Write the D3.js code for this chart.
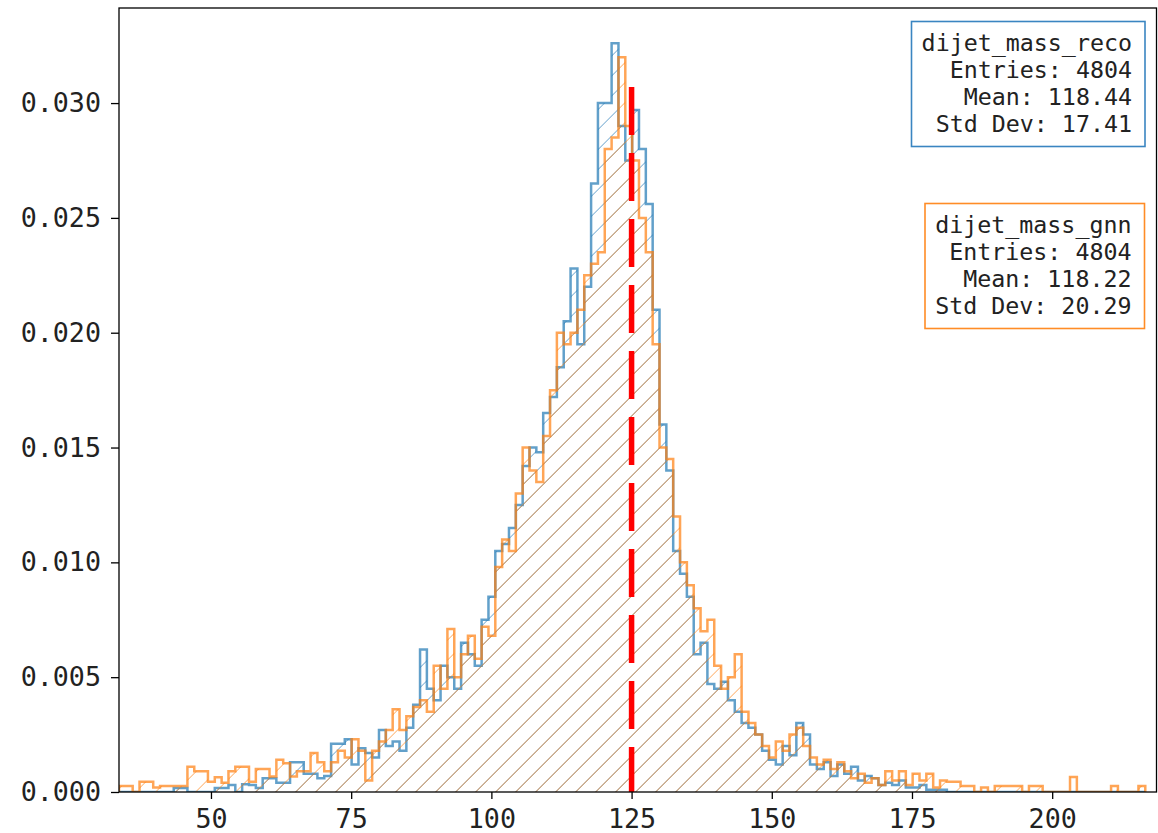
<!DOCTYPE html>
<html>
<head>
<meta charset="utf-8">
<script src="https://cdn.jsdelivr.net/npm/d3@7"></script>
<style>
  body { margin: 0; background: #fff; }
  text { font-family: "DejaVu Sans Mono", monospace; fill: #222; }
</style>
</head>
<body>
<div id="chart-area"></div>
<script>
const margin = {top:8, right:1.5, bottom:41, left:119};
const width = 1158 - margin.left - margin.right;
const height = 833 - margin.top - margin.bottom;

// histogram binning (same grid for both series)
const binStart = 33.6;
const binWidth = 1.22;

// density per bin, dijet_mass_gnn (orange)
const gnnDensity = [
  0.00026,0.00026,0,0.00045,0.00045,0.0002,0.00026,0.00026,0.00026,0.00026,
  0.0011,0.0009,0.0009,0.00045,0.00064,0.0004,0.0009,0.0011,0.0011,0.00045,
  0.001,0.001,0.00067,0.0014,0.00125,0.00067,0.0009,0.0009,0.0017,0.0013,
  0.0009,0.0013,0.0018,0.0015,0.0023,0.0018,0.0005,0.0018,0.0022,0.0027,
  0.0036,0.0027,0.0033,0.0037,0.0040,0.0035,0.0055,0.0045,0.0071,0.0050,
  0.0060,0.0068,0.0058,0.0072,0.0068,0.0098,0.0110,0.0105,0.0130,0.0150,
  0.0140,0.0135,0.0155,0.0175,0.0200,0.0195,0.0200,0.0210,0.0225,0.0230,
  0.0235,0.0280,0.0285,0.0320,0.0290,0.0275,0.0250,0.0235,0.0195,0.0150,
  0.0145,0.0120,0.0100,0.0090,0.0080,0.0070,0.0075,0.0055,0.0045,0.0050,
  0.0060,0.0035,0.0030,0.0025,0.0020,0.0015,0.0022,0.0018,0.0025,0.0028,
  0.0020,0.0015,0.0012,0.0014,0.0010,0.0013,0.0009,0.0006,0.0008,0.0004,
  0.0006,0.0003,0.0009,0.0005,0.0009,0.0003,0.0008,0.0005,0.0008,0.0002,
  0.0005,0.00045,0.00045,0.00026,0.00026,0,0.0002,0,0.00026,0.00026,
  0.00026,0.00026,0,0.00026,0.00026,0,0,0,0,0.00065,
  0,0,0,0,0,0.00026,0,0,0,0.00026
];

// density per bin, dijet_mass_reco (blue)
const recoDensity = [
  0,0,0,0,0,0,0,0,0.00017,0.00017,
  0,0,0,0,0.00017,0.00017,0.0003,0,0.00034,0.0003,
  0.00017,0.0006,0.0006,0.0004,0.0004,0.0013,0.0013,0.0008,0.0008,0.0006,
  0.0007,0.0021,0.0021,0.0023,0.0012,0.0019,0.0017,0.0015,0.0027,0.0020,
  0.0022,0.0018,0.0028,0.0038,0.0062,0.0045,0.0040,0.0055,0.0050,0.0045,
  0.0065,0.0060,0.0055,0.0075,0.0085,0.0105,0.0108,0.0115,0.0125,0.0142,
  0.0150,0.0148,0.0165,0.0172,0.0185,0.0205,0.0228,0.0195,0.0220,0.0265,
  0.0300,0.0300,0.0326,0.0290,0.0275,0.0297,0.0280,0.0256,0.0210,0.0160,
  0.0140,0.0105,0.0095,0.0085,0.0060,0.0065,0.0047,0.0045,0.0048,0.0040,
  0.0035,0.0030,0.0028,0.0025,0.0018,0.0014,0.0012,0.0020,0.0016,0.0030,
  0.0025,0.0012,0.0010,0.0013,0.0007,0.0012,0.0008,0.0011,0.0005,0.0007,
  0.0006,0.0003,0.0004,0.0003,0.0005,0.0002,0.0002,0.0003,0.0001,0.0001,
  0.0001,0,0,0,0,0,0,0,0,0,
  0,0,0,0,0,0,0,0,0,0,
  0,0,0,0,0,0,0,0,0,0
];

const xTicks = [50, 75, 100, 125, 150, 175, 200];
const yTicks = [0, 0.005, 0.010, 0.015, 0.020, 0.025, 0.030];

const xDomain = [33.6, 218.6];
const yMax = 0.03414;

const refMass = 125;      // red dashed line
const refTop = 0.0307;

const statBoxes = [
  {name:"dijet_mass_reco", entries:4804, mean:"118.44", std:"17.41", color:"#3a85c1"},
  {name:"dijet_mass_gnn",  entries:4804, mean:"118.22", std:"20.29", color:"#ff8c26"}
];

const colors = {reco:"#1f77b4", gnn:"#ff7f0e"};

var svg = d3.select("#chart-area").append("svg")
    .attr("width", width + margin.left + margin.right)
    .attr("height", height + margin.top + margin.bottom);

var g = svg.append("g")
    .attr("transform", "translate(" + margin.left + "," + margin.top + ")");

var x = d3.scaleLinear().domain(xDomain).range([0, width]);
var y = d3.scaleLinear().domain([0, yMax]).range([height, 0]);

// hatch patterns, user space so both line up like matplotlib's
var defs = svg.append("defs");
var makeHatch = function(id, color) {
    var p = defs.append("pattern")
        .attr("id", id)
        .attr("patternUnits", "userSpaceOnUse")
        .attr("width", 14.142)
        .attr("height", 14.142)
        .attr("patternTransform", "rotate(45)");
    p.append("line")
        .attr("x1", 0).attr("y1", 0)
        .attr("x2", 0).attr("y2", 14.142)
        .attr("stroke", color)
        .attr("stroke-opacity", 0.7)
        .attr("stroke-width", 1.5);
};
makeHatch("hatch-reco", colors.reco);
makeHatch("hatch-gnn", colors.gnn);

g.append("clipPath").attr("id", "clip")
  .append("rect").attr("width", width).attr("height", height);

// outline of a step histogram
var stepPoints = function(vals) {
    var pts = [[binStart, 0]];
    vals.forEach(function(v, i) {
        pts.push([binStart + i * binWidth, v]);
        pts.push([binStart + (i + 1) * binWidth, v]);
    });
    pts.push([binStart + vals.length * binWidth, 0]);
    return pts;
};

var line = d3.line().x(d => x(d[0])).y(d => y(d[1]));

var hist = g.append("g").attr("clip-path", "url(#clip)");

[["reco", recoDensity], ["gnn", gnnDensity]].forEach(function(s) {
    var pts = stepPoints(s[1]);
    hist.append("path")
        .attr("d", line(pts) + "Z")
        .attr("fill", "url(#hatch-" + s[0] + ")")
        .attr("stroke", "none");
    hist.append("path")
        .attr("d", line(pts))
        .attr("fill", "none")
        .attr("stroke", colors[s[0]])
        .attr("stroke-opacity", 0.7)
        .attr("stroke-width", 2.5)
        .attr("stroke-linejoin", "miter");
});

// reference line
g.append("line")
    .attr("x1", x(refMass)).attr("x2", x(refMass))
    .attr("y1", y(refTop)).attr("y2", y(0))
    .attr("stroke", "red")
    .attr("stroke-width", 5.5)
    .attr("stroke-dasharray", "48,18");

// axes
var xAxis = g.append("g")
    .attr("transform", "translate(0," + height + ")")
    .call(d3.axisBottom(x).tickValues(xTicks).tickSize(7).tickPadding(10).tickFormat(d3.format("d")));
var yAxis = g.append("g")
    .call(d3.axisLeft(y).tickValues(yTicks).tickSize(8).tickPadding(10).tickFormat(d3.format(".3f")));

[xAxis, yAxis].forEach(function(a) {
    a.select(".domain").remove();
    a.selectAll(".tick line").attr("stroke", "#000").attr("stroke-width", 1.3);
    a.selectAll(".tick text")
        .attr("fill", "#222")
        .style("font-family", "'DejaVu Sans Mono', monospace")
        .style("font-size", "26.7px");
});

g.append("rect")
    .attr("width", width).attr("height", height)
    .attr("fill", "none")
    .attr("stroke", "#000")
    .attr("stroke-width", 1.3);

// stat boxes
var boxPos = [{x:911.5, y:21.5, w:233.5, h:125}, {x:925, y:203.5, w:219.5, h:125}];
statBoxes.forEach(function(b, i) {
    var p = boxPos[i];
    var box = svg.append("g").attr("transform", "translate(" + p.x + "," + p.y + ")");
    box.append("rect")
        .attr("width", p.w).attr("height", p.h)
        .attr("fill", "#fff")
        .attr("stroke", b.color)
        .attr("stroke-width", 1.6);
    var lines = [b.name, "Entries: " + b.entries, "Mean: " + b.mean, "Std Dev: " + b.std];
    box.selectAll("text")
        .data(lines)
        .enter().append("text")
        .attr("x", p.w - 13)
        .attr("y", (d, j) => 29 + j * 27.3)
        .attr("text-anchor", "end")
        .style("font-size", "23.3px")
        .text(d => d);
});
</script>
</body>
</html>
